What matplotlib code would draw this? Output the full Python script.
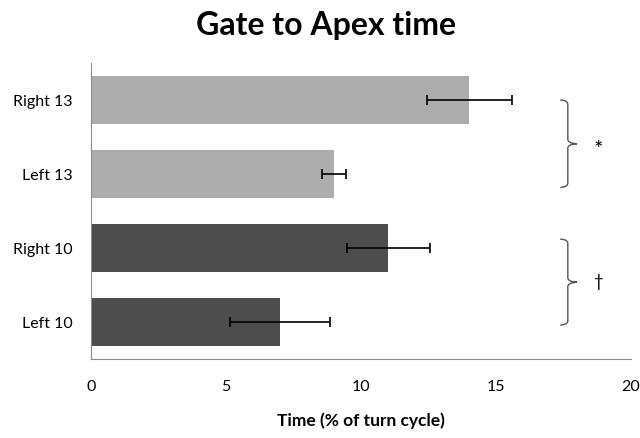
import matplotlib.pyplot as plt
from matplotlib.path import Path
from matplotlib.patches import PathPatch

plt.rcParams['font.family'] = ['Lato', 'DejaVu Sans']

# bottom to top
labels = ['Left 10', 'Right 10', 'Left 13', 'Right 13']
times = [7.0, 11.0, 9.0, 14.0]
err_lo = [1.85, 1.5, 0.45, 1.55]
err_hi = [1.85, 1.55, 0.45, 1.6]
colors = ['#4d4d4d', '#4d4d4d', '#adadad', '#adadad']

# significance braces: (bottom, top, mark, size, vertical nudge)
groups = [(1.82, 3.0, '*', 16, -0.08), (-0.04, 1.12, '\u2020', 12, 0.0)]


def brace(ax, x, y0, y1, w):
    """draw a right-facing curly brace from y0 to y1 at x"""
    ym = (y0 + y1) / 2
    h = 0.06
    xv = x + w * 0.45
    verts = [
        (x, y1), (xv, y1), (xv, y1 - h),
        (xv, ym + h),
        (xv, ym), (x + w, ym), (x + w, ym),
        (x + w, ym), (xv, ym), (xv, ym - h),
        (xv, y0 + h),
        (xv, y0), (x, y0), (x, y0),
    ]
    codes = [Path.MOVETO, Path.CURVE3, Path.CURVE3,
             Path.LINETO,
             Path.CURVE4, Path.CURVE4, Path.CURVE4,
             Path.CURVE4, Path.CURVE4, Path.CURVE4,
             Path.LINETO,
             Path.CURVE4, Path.CURVE4, Path.CURVE4]
    ax.add_patch(PathPatch(Path(verts, codes), fill=False, lw=1.0, ec='#555555'))


fig = plt.figure(figsize=(6.4, 4.38), dpi=100)
ax = fig.add_axes([0.142, 0.180, 0.844, 0.676])

ypos = list(range(len(labels)))
ax.barh(ypos, times, height=0.65, color=colors, zorder=2)
ax.errorbar(times, ypos, xerr=[err_lo, err_hi], fmt='none', ecolor='black',
            elinewidth=1.2, capsize=3.5, capthick=1.2, zorder=3)

for lo, hi, mark, size, dy in groups:
    brace(ax, 17.38, lo, hi, 0.62)
    ax.text(18.8, (lo + hi) / 2 + dy, mark, ha='center', va='center', fontsize=size)

ax.set_xlim(0, 20)
ax.set_ylim(-0.5, 3.5)
ax.set_xticks([0, 5, 10, 15, 20])
ax.set_yticks(ypos)
ax.set_yticklabels(labels)
ax.tick_params(axis='both', length=0, labelsize=11.5)
ax.tick_params(axis='y', pad=13)
ax.tick_params(axis='x', pad=15)
for s in ['top', 'right']:
    ax.spines[s].set_visible(False)
for s in ['left', 'bottom']:
    ax.spines[s].set_color('#8c8c8c')

ax.set_xlabel('Time (% of turn cycle)', fontsize=12.5, fontweight='bold', labelpad=13)
fig.suptitle('Gate to Apex time', fontsize=23, fontweight='bold', x=0.51, y=0.975)

plt.savefig('out.png', dpi=100)
plt.close()
